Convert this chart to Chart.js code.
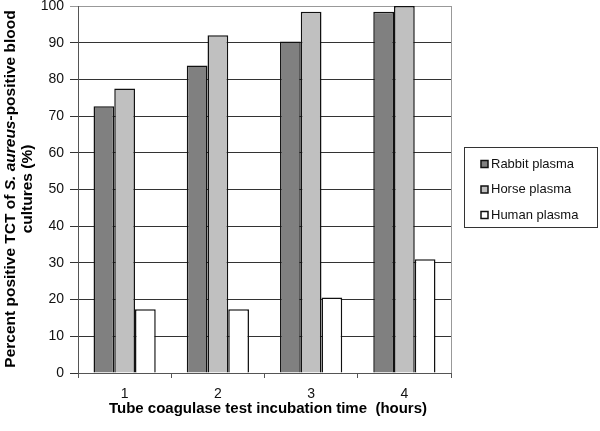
<!DOCTYPE html>
<html lang="en">
  <head>
    <meta charset="UTF-8" />
    <title>Tube coagulase test</title>
    <style>
      * { margin: 0; padding: 0; }
      body { background: #fff; }
      .chartBox { width: 600px; height: 431px; }
    </style>
  </head>
  <body>
    <div class="chartBox"><canvas id="myChart"></canvas></div>

    <script src="https://cdn.jsdelivr.net/npm/chart.js"></script>
    <script>
      // data block
      const hours = ["1", "2", "3", "4"];
      const rabbitPlasma = [72.7, 83.8, 90.3, 98.4];
      const horsePlasma = [77.5, 92.0, 98.4, 100];
      const humanPlasma = [17.4, 17.4, 20.6, 31.0];
      const seriesNames = ["Rabbit plasma", "Horse plasma", "Human plasma"];
      const yTicks = [0, 10, 20, 30, 40, 50, 60, 70, 80, 90, 100];

      const fills = ["#808080", "#c0c0c0", "#ffffff"];

      const data = {
        labels: hours,
        datasets: [rabbitPlasma, horsePlasma, humanPlasma].map((vals, i) => ({
          label: seriesNames[i],
          data: vals,
          backgroundColor: fills[i],
          borderColor: "#111",
          borderWidth: 1.5,
          borderSkipped: "bottom",
          barPercentage: 1,
          categoryPercentage: 0.667
        }))
      };

      // titles, frame and legend drawn by hand
      const decorations = {
        id: "decorations",
        afterDraw: (chart) => {
          const { ctx, chartArea: a } = chart;
          ctx.save();

          // right frame line
          ctx.strokeStyle = "#999";
          ctx.lineWidth = 1;
          ctx.beginPath();
          ctx.moveTo(a.right + 0.5, a.top);
          ctx.lineTo(a.right + 0.5, a.bottom);
          ctx.stroke();

          // y title with italic species name
          ctx.fillStyle = "#000";
          ctx.textBaseline = "middle";
          ctx.translate(11, 189);
          ctx.rotate(-Math.PI / 2);
          const parts = [
            ["bold 15.5px Arial", "Percent positive TCT of "],
            ["italic bold 15.5px Arial", "S. aureus"],
            ["bold 15.5px Arial", "-positive blood"]
          ];
          let total = 0;
          parts.forEach(([f, t]) => { ctx.font = f; total += ctx.measureText(t).width; });
          let x = -total / 2;
          ctx.textAlign = "left";
          parts.forEach(([f, t]) => {
            ctx.font = f;
            ctx.fillText(t, x, 0);
            x += ctx.measureText(t).width;
          });
          ctx.font = "bold 15.5px Arial";
          ctx.textAlign = "center";
          ctx.fillText("cultures (%)", 0, 17);
          ctx.restore();

          // x title
          ctx.save();
          ctx.font = "bold 15px Arial";
          ctx.fillStyle = "#000";
          ctx.textAlign = "center";
          ctx.textBaseline = "middle";
          ctx.fillText("Tube coagulase test incubation time  (hours)", 268, 409);

          // legend
          ctx.strokeStyle = "#333";
          ctx.lineWidth = 1;
          ctx.strokeRect(464.5, 147.5, 133, 80);
          ctx.font = "13px Arial";
          ctx.textAlign = "left";
          seriesNames.forEach((name, i) => {
            const yy = 164 + i * 25.5;
            ctx.fillStyle = fills[i];
            ctx.fillRect(481, yy - 3.5, 7, 7);
            ctx.strokeStyle = "#111";
            ctx.lineWidth = 1.5;
            ctx.strokeRect(481, yy - 3.5, 7, 7);
            ctx.fillStyle = "#111";
            ctx.fillText(name, 491, yy);
          });
          ctx.restore();
        }
      };

      // config block
      const config = {
        type: "bar",
        data,
        options: {
          responsive: true,
          maintainAspectRatio: false,
          animation: false,
          layout: { padding: { top: 6, right: 149, left: 0, bottom: 0 } },
          plugins: {
            legend: { display: false },
            tooltip: { enabled: false }
          },
          scales: {
            x: {
              grid: {
                offset: true,
                drawOnChartArea: false,
                color: "#555",
                tickLength: 5
              },
              border: { color: "#555", width: 1 },
              ticks: {
                color: "#111",
                font: { family: "Arial", size: 14 },
                padding: 8
              },
              afterFit: (scale) => {
                scale.height = 58;
                scale.paddingLeft = 0;
                scale.paddingRight = 0;
              }
            },
            y: {
              min: 0,
              max: 100,
              afterBuildTicks: (scale) => { scale.ticks = yTicks.map((v) => ({ value: v })); },
              grid: {
                color: (c) => (c.tick && c.tick.value === 100 ? "#999" : "#333"),
                tickLength: 8
              },
              border: { color: "#555", width: 1 },
              ticks: {
                color: "#111",
                font: { family: "Arial", size: 14 },
                padding: 6
              },
              afterFit: (scale) => {
                scale.width = 78;
                scale.paddingTop = 0;
                scale.paddingBottom = 0;
              }
            }
          }
        },
        plugins: [decorations]
      };

      // init render block
      const myChart = new Chart(document.getElementById("myChart"), config);
    </script>
  </body>
</html>
